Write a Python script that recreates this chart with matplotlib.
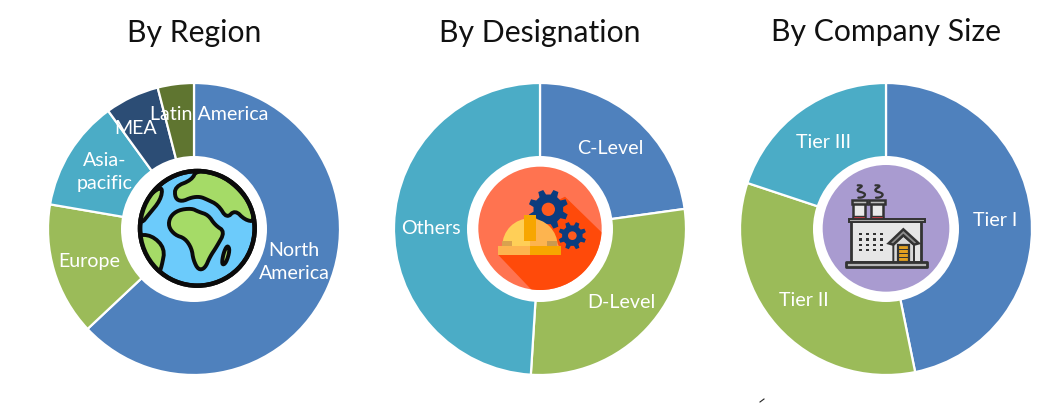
#!/usr/bin/env python3
"""Three donut panels (region, designation, company size) with centre icons."""
import numpy as np
import matplotlib
matplotlib.use("Agg")
import matplotlib.pyplot as plt
from matplotlib.patches import Circle, Polygon, Rectangle, Wedge
from matplotlib.transforms import Affine2D

W, H = 1061, 404
BLUE, GREEN, TEAL, NAVY, OLIVE = "#4F81BD", "#9BBB59", "#4BACC6", "#2C4D75", "#5F7530"

titles = ["By Region", "By Designation", "By Company Size"]

region_names = ["North\nAmerica", "Europe", "Asia-\npacific", "MEA", "Latin America"]
region_share = [63.0, 14.7, 12.3, 6.0, 4.0]
region_colors = [BLUE, GREEN, TEAL, NAVY, OLIVE]

designation_names = ["C-Level", "D-Level", "Others"]
designation_share = [22.8, 28.2, 49.0]

size_names = ["Tier I", "Tier II", "Tier III"]
size_share = [46.8, 33.3, 19.9]

plt.rcParams["font.family"] = ["Lato", "DejaVu Sans"]

fig = plt.figure(figsize=(W / 100, H / 100), dpi=100, facecolor="white")
ax = fig.add_axes([0, 0, 1, 1])


def donut(cx, cy, shares, colors, names, label_xy, title, title_y):
    y = H - cy
    ax.pie(shares, colors=colors, center=(cx, y), radius=146, startangle=90,
           counterclock=False, wedgeprops=dict(edgecolor="white", linewidth=1.6))
    ax.add_patch(Circle((cx, y), 73, fc="white", ec="none", zorder=3))
    for name, (lx, ly) in zip(names, label_xy):
        ax.text(lx, H - ly, name, color="white", fontsize=14.1, ha="center",
                va="center", linespacing=1.42, zorder=6)
    ax.text(cx, H - title_y, title, color="#111111", fontsize=21.7, ha="center",
            va="center", zorder=6)


donut(194, 229, region_share, region_colors, region_names,
      [(294, 262), (89, 261), (105, 172), (136, 128), (209, 114)], titles[0], 33)
donut(540, 229, designation_share, [BLUE, GREEN, TEAL], designation_names,
      [(610, 148), (621, 302), (431, 228)], titles[1], 33)
donut(886, 229, size_share, [BLUE, GREEN, TEAL], size_names,
      [(995, 220), (804, 300), (823, 142)], titles[2], 32)

ax.set_xlim(0, W)
ax.set_ylim(0, H)
ax.set_aspect("auto")
ax.axis("off")


def icon_frame(x0, y0):
    # icon shapes below are traced in 3x crop coordinates
    return Affine2D().scale(1 / 3, -1 / 3).translate(x0, H - y0) + ax.transData


def add(patch, tr, z=4, clip=None):
    patch.set_transform(tr)
    patch.set_zorder(z)
    ax.add_patch(patch)
    if clip is not None:
        patch.set_clip_path(clip)
    return patch


def smooth(pts, closed=True, rounds=3):
    # Chaikin corner cutting so traced outlines look hand drawn, not faceted
    pts = np.asarray(pts, float)
    for _ in range(rounds):
        nxt = np.roll(pts, -1, axis=0) if closed else pts[1:]
        cur = pts if closed else pts[:-1]
        q = 0.75 * cur + 0.25 * nxt
        r = 0.25 * cur + 0.75 * nxt
        pts = np.column_stack([q, r]).reshape(-1, 2)
    return pts


def gear(cx, cy, r_out, r_in, teeth=8):
    pts = []
    step = 2 * np.pi / teeth
    for i in range(teeth):
        a = i * step + step / 2
        for frac, r in [(-0.30, r_in), (-0.17, r_out), (0.17, r_out), (0.30, r_in)]:
            pts.append((cx + r * np.cos(a + frac * step), cy + r * np.sin(a + frac * step)))
    return pts


# globe
tr = icon_frame(120, 160)
BLACK = "#0B0B0B"
LAND = "#A5DB67"
ocean = add(Circle((232, 205), 172, fc="#6CCBFB", ec=BLACK, lw=3.2), tr)
continents = [
    [(150, 170), (175, 150), (215, 145), (235, 155), (265, 165), (285, 195), (315, 215),
     (290, 260), (270, 290), (255, 325), (235, 330), (220, 300), (215, 265), (195, 235),
     (165, 225), (145, 200)],
    [(230, 30), (300, 45), (350, 80), (390, 130), (405, 185), (375, 180), (345, 150),
     (320, 175), (295, 135), (260, 118), (240, 110), (215, 112), (185, 125), (165, 115),
     (165, 80), (215, 60)],
    [(128, 80), (122, 120), (85, 165), (65, 190), (52, 170), (75, 125), (100, 95)],
    [(45, 225), (95, 225), (135, 265), (125, 320), (115, 345), (85, 320), (60, 265)],
    [(322, 255), (330, 270), (318, 310), (305, 315), (310, 280)],
]
for shape in continents:
    add(Polygon(smooth(shape, rounds=2), closed=True, fc=LAND, ec=BLACK, lw=2.8, joinstyle="round"),
        tr, 5, ocean)
add(Circle((232, 205), 172, fc="none", ec=BLACK, lw=3.2), tr, 5)

# helmet and gears
tr = icon_frame(465, 160)
disc = add(Circle((225, 205), 185, fc="#FF7350", ec="none"), tr)
add(Polygon([(100, 285), (205, 395), (300, 390), (385, 320), (415, 222), (300, 110), (200, 160),
             (285, 260)], closed=True, fc="#FF4A0A", ec="none"), tr, 4, disc)
add(Polygon(gear(250, 148, 60, 45), closed=True, fc="#0B3C7E", ec="none"), tr, 5)
add(Circle((250, 148), 20, fc="#FF5A1E", ec="none"), tr, 6)
add(Polygon(gear(322, 227, 42, 31), closed=True, fc="#0B3C7E", ec="none"), tr, 5)
add(Circle((322, 227), 13, fc="#FF5A1E", ec="none"), tr, 6)
# the icon frame flips y, so the dome runs over 180..360 degrees here
add(Wedge((195, 258), 83, 180, 270, fc="#FFCF57", ec="none"), tr, 6)
add(Wedge((195, 258), 83, 270, 360, fc="#FDB44F", ec="none"), tr, 6)
add(Rectangle((100, 258), 95, 27, fc="#FDB44F", ec="none"), tr, 7)
add(Rectangle((195, 258), 93, 27, fc="#F7A600", ec="none"), tr, 7)
add(Rectangle((178, 165), 34, 78, fc="#F7A600", ec="none"), tr, 7)
add(Rectangle((110, 244), 32, 14, fc="#D9A24E", ec="none"), tr, 7)
add(Rectangle((245, 244), 32, 14, fc="#C99A50", ec="none"), tr, 7)

# factory
tr = icon_frame(810, 160)
DARK = "#333333"
add(Circle((228, 205), 190, fc="#A99BD0", ec="none"), tr)
for sx in (148, 201):
    add(Rectangle((sx - 18, 130), 36, 48, fc="#E9E9E9", ec=DARK, lw=1.8), tr, 5)
    add(Rectangle((sx - 18, 168), 36, 10, fc="#D8404A", ec=DARK, lw=1.0), tr, 6)
    add(Rectangle((sx - 23, 120), 46, 12, fc="#BDBDBD", ec=DARK, lw=1.8), tr, 6)
    curl = smooth([(sx - 16, 76), (sx + 14, 76), (sx - 12, 92), (sx + 20, 100), (sx + 12, 113),
                   (sx - 12, 113)], closed=False, rounds=2)
    ax.plot(curl[:, 0], curl[:, 1], transform=tr, color=DARK, lw=1.6, zorder=5,
            solid_capstyle="round")
add(Rectangle((124, 182), 210, 125, fc="#E6E6E6", ec=DARK, lw=2.0), tr, 5)
add(Rectangle((116, 176), 228, 9, fc="#A8A8A8", ec=DARK, lw=1.4), tr, 6)
add(Rectangle((108, 307), 244, 14, fc="#B5B5B5", ec=DARK, lw=2.0, joinstyle="round"), tr, 7)
for wx in (150, 171, 192, 213):
    for wy in (222, 238, 254, 270):
        add(Rectangle((wx - 4, wy - 3), 9, 7, fc=DARK, ec="none"), tr, 6)
add(Polygon([(236, 250), (280, 208), (326, 250), (312, 254), (280, 226), (250, 254)], closed=True,
            fc="#8C8C8C", ec=DARK, lw=1.8), tr, 7)
add(Polygon([(250, 254), (280, 226), (312, 254), (312, 307), (250, 307)], closed=True,
            fc="#DADADA", ec=DARK, lw=1.4), tr, 6)
add(Rectangle((264, 256), 34, 51, fc="#E2A020", ec=DARK, lw=1.6), tr, 7)
for by in (268, 280, 292):
    add(Rectangle((264, by), 34, 2, fc=DARK, ec="none"), tr, 8)

# stray tick at the bottom edge of the source image
ax.plot([760, 764], [H - 402, H - 399], color="#222222", lw=0.8)

fig.savefig("out.png", dpi=100, facecolor="white")
